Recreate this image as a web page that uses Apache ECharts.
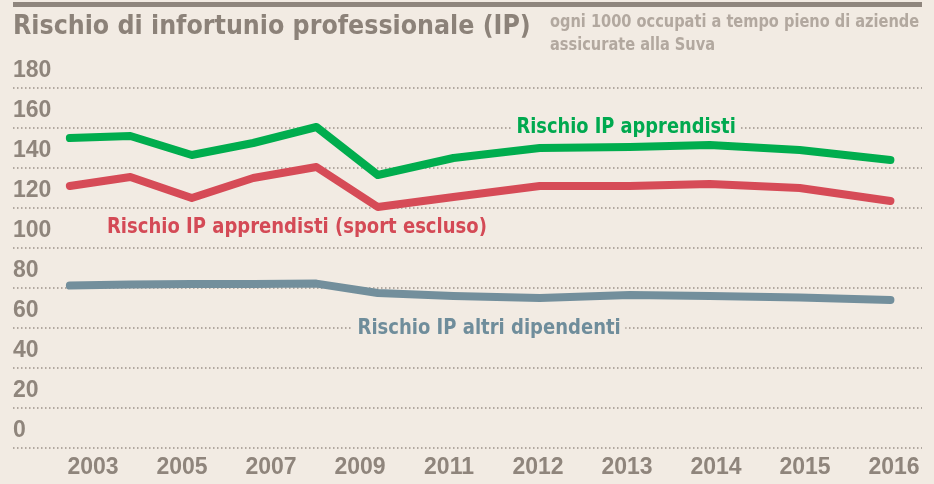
<!DOCTYPE html>
<html>
<head>
<meta charset="utf-8">
<script src="https://cdn.jsdelivr.net/npm/echarts@6/dist/echarts.min.js"></script>
<style>
  html, body { margin: 0; padding: 0; background: #f2ebe3; }
  #chart { width: 934px; height: 484px; }
</style>
</head>
<body>
<div id="chart"></div>
<script>
// year labels under the axis (evenly spaced, as printed)
var yearLabels = ['2003', '2005', '2007', '2009', '2011', '2012', '2013', '2014', '2015', '2016'];
// where each data point sits along the axis, in label slots (0 = 2003 label)
var pointPos = [-0.26, 0.42, 1.11, 1.80, 2.51, 3.20, 4.05, 5.02, 6.03, 6.93, 7.94, 8.96];
// cases per 1000 full-time employees
var apprendisti = [155, 156, 146.5, 152.5, 160.5, 136.5, 145, 150, 150.5, 151.5, 149, 144];
var apprendistiNoSport = [131, 135.5, 125, 135, 140.5, 120.5, 125.5, 131, 131, 132, 130, 123.5];
var altriDipendenti = [81.2, 81.8, 82, 82, 82.2, 77.5, 76, 75, 76.5, 76, 75.2, 74];

var bg = '#f2ebe3';
var font = "'DejaVu Sans Condensed', 'DejaVu Sans', sans-serif";
var axisFont = "'Liberation Sans', Arial, sans-serif";
var greyText = '#8f857c';

function pairs(vals) {
	var out = [];
	for (var i = 0; i < vals.length; i++) out.push([pointPos[i], vals[i]]);
	return out;
}

function lineSeries(name, vals, color) {
	return {
		name: name,
		type: 'line',
		xAxisIndex: 0,
		yAxisIndex: 0,
		symbol: 'none',
		silent: true,
		data: pairs(vals),
		lineStyle: { color: color, width: 8, cap: 'round', join: 'round' }
	};
}

// text drawn narrower so it fits like the condensed newspaper face
function label(txt, x, y, size, color, sx, extra) {
	var style = { text: txt, font: 'bold ' + size + 'px ' + font, fill: color, verticalAlign: 'middle' };
	for (var k in extra) style[k] = extra[k];
	return { type: 'text', x: x, y: y, scaleX: sx, z: 10, style: style };
}

var chart = echarts.init(document.getElementById('chart'), null, { renderer: 'canvas' });

var option = {
	backgroundColor: bg,
	animation: false,
	textStyle: { fontFamily: font },
	grid: [
		{ left: 13, right: 12, top: 88, bottom: 36 },
		{ left: 93, right: 40, top: 88, bottom: 36 }
	],
	xAxis: [
		{
			type: 'value', gridIndex: 0,
			min: -80 / 89, max: 829 / 89,
			show: false
		},
		{
			type: 'category', gridIndex: 1,
			data: yearLabels,
			boundaryGap: false,
			axisLine: { show: false },
			axisTick: { show: false },
			axisLabel: {
				margin: 8,
				fontSize: 23, fontWeight: 'bold', fontFamily: axisFont,
				color: greyText
			}
		}
	],
	yAxis: [
		{
			type: 'value', gridIndex: 0,
			min: 0, max: 180, interval: 20,
			axisLine: { show: false },
			axisTick: { show: false },
			axisLabel: {
				inside: true, margin: 0,
				verticalAlign: 'bottom',
				padding: [0, 0, 6, 0],
				fontSize: 23, fontWeight: 'bold', fontFamily: axisFont,
				color: greyText
			},
			splitLine: {
				lineStyle: { color: '#9c928a', width: 1.5, type: [1.5, 2.5] }
			}
		},
		{ type: 'value', gridIndex: 1, show: false }
	],
	series: [
		lineSeries('Rischio IP altri dipendenti', altriDipendenti, '#738f9c'),
		lineSeries('Rischio IP apprendisti (sport escluso)', apprendistiNoSport, '#d64b57'),
		lineSeries('Rischio IP apprendisti', apprendisti, '#00ad4e')
	],
	graphic: [
		{ type: 'rect', left: 13, top: 2, shape: { width: 909, height: 5 }, style: { fill: '#8f867e' } },
		label('Rischio di infortunio professionale (IP)', 13, 27, 27, '#8c8279', 0.98, {}),
		{
			type: 'text', x: 550, y: 11, scaleX: 0.9,
			style: {
				text: 'ogni 1000 occupati a tempo pieno di aziende\nassicurate alla Suva',
				font: 'bold 18px ' + font, fill: '#b2a89f', lineHeight: 23, verticalAlign: 'top'
			}
		},
		label('Rischio IP apprendisti', 512, 127, 22, '#00a94f', 0.9, { backgroundColor: bg, padding: [0, 5] }),
		label('Rischio IP apprendisti (sport escluso)', 107, 227, 22, '#d44a56', 0.91, {}),
		label('Rischio IP altri dipendenti', 353, 328, 22, '#6f8d9b', 0.91, { backgroundColor: bg, padding: [0, 5] })
	]
};

chart.setOption(option);
</script>
</body>
</html>
